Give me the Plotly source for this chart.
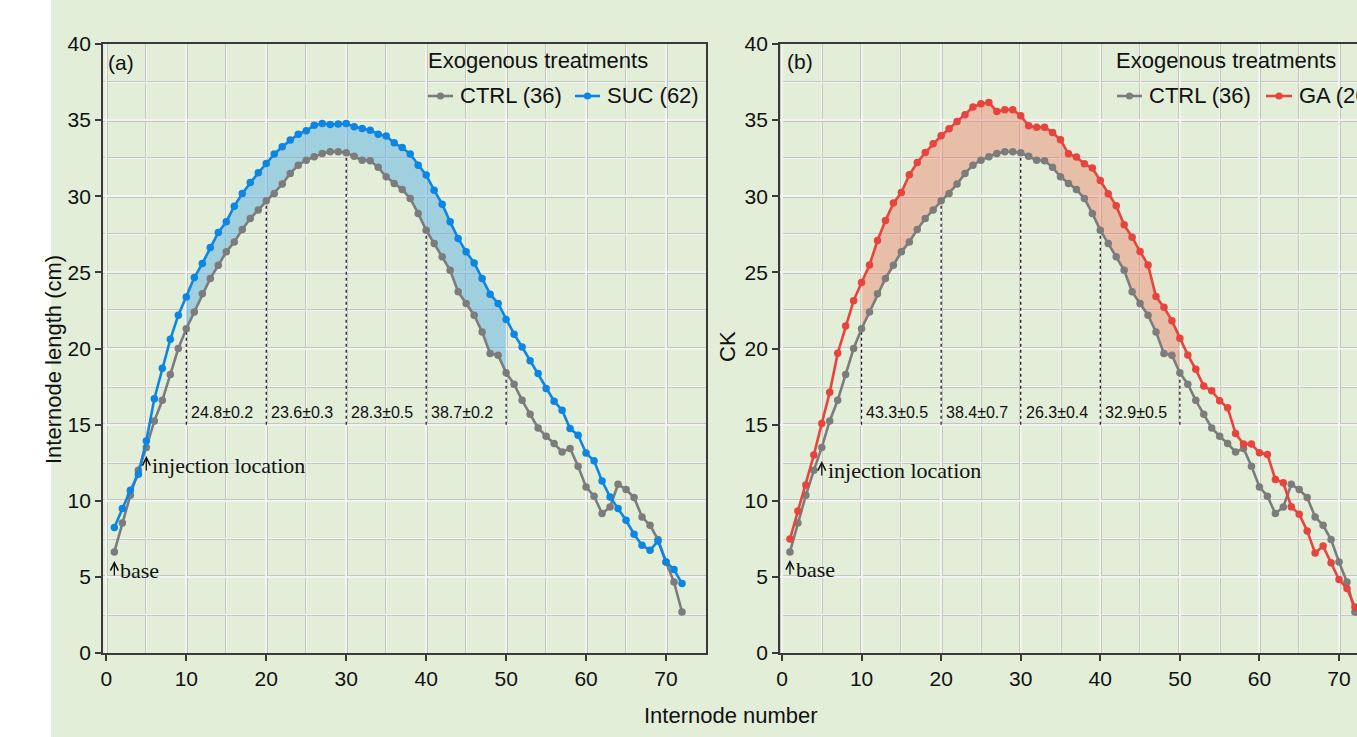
import plotly.graph_objects as go

# ---------------- data ----------------
internode = list(range(1, 73))

ctrl = [6.64, 8.54, 10.36, 12.0, 13.5, 15.24, 16.6, 18.3, 20.0, 21.3,
        22.4, 23.6, 24.6, 25.47, 26.35, 27.0, 27.82, 28.54, 29.09, 29.7,
        30.18, 30.8, 31.5, 32.04, 32.37, 32.59, 32.81, 32.92, 32.92, 32.85,
        32.63, 32.37, 32.33, 31.9, 31.28, 30.84, 30.44, 29.86, 28.87, 27.77,
        26.9, 26.02, 25.14, 23.72, 22.96, 22.19, 21.09, 19.67, 19.56, 18.4,
        17.65, 16.6, 15.68, 14.78, 14.24, 13.76, 13.21, 13.43, 12.27, 10.91,
        10.3, 9.16, 9.59, 11.08, 10.74, 10.21, 8.94, 8.39, 7.45, 5.98,
        4.66, 2.69]

suc = [8.24, 9.49, 10.69, 11.74, 13.93, 16.7, 18.7, 20.6, 22.19, 23.39,
       24.66, 25.58, 26.63, 27.62, 28.32, 29.35, 30.18, 30.9, 31.54, 32.15,
       32.77, 33.25, 33.69, 34.08, 34.3, 34.67, 34.78, 34.72, 34.74, 34.78,
       34.56, 34.45, 34.34, 34.08, 33.95, 33.51, 33.2, 32.77, 32.04, 31.39,
       30.4, 29.48, 28.32, 27.23, 26.35, 25.62, 24.6, 23.57, 22.96, 21.9,
       20.94, 20.1, 19.19, 18.36, 17.37, 16.54, 15.95, 14.74, 14.3, 13.14,
       12.62, 11.3, 10.25, 9.49, 8.72, 7.8, 7.08, 6.75, 7.36, 5.98,
       5.48, 4.56]

ga = [7.48, 9.32, 11.03, 13.0, 15.08, 17.12, 19.68, 21.48, 23.14, 24.33,
      25.49, 27.09, 28.4, 29.55, 30.24, 31.41, 32.22, 32.87, 33.45, 33.97,
      34.43, 34.91, 35.35, 35.86, 36.07, 36.16, 35.57, 35.68, 35.68, 35.29,
      34.63, 34.54, 34.54, 34.19, 33.71, 32.79, 32.57, 32.13, 31.85, 31.03,
      30.16, 29.37, 28.12, 27.31, 26.37, 25.49, 23.41, 22.71, 21.83, 20.67,
      19.57, 18.63, 17.53, 17.23, 16.57, 16.11, 14.42, 13.72, 13.72, 13.15,
      13.04, 11.4, 11.18, 9.6, 9.12, 8.02, 6.57, 7.02, 5.92, 4.83,
      4.23, 3.02]

segment_bounds = [10, 20, 30, 40, 50]
labels_a = ["24.8±0.2", "23.6±0.3", "28.3±0.5", "38.7±0.2"]
labels_b = ["43.3±0.5", "38.4±0.7", "26.3±0.4", "32.9±0.5"]
legend_title = "Exogenous treatments"
names_a = ["CTRL (36)", "SUC (62)"]
names_b = ["CTRL (36)", "GA (26)"]
x_ticks = [0, 10, 20, 30, 40, 50, 60, 70]
y_ticks = [0, 5, 10, 15, 20, 25, 30, 35, 40]
injection_node = 5
base_node = 1

# ---------------- styles ----------------
W, H = 1357, 737
ML, MR, MT, MB = 103, 0, 44, 84
PW = W - ML - MR
PH = H - MT - MB
BG = "#E2EED8"
GREY = "#7C7C7C"
BLUE = "#0D86E3"
RED = "#E8443E"
FONT = "Liberation Sans, Arial, sans-serif"
SERIF = "Liberation Serif, Times New Roman, serif"
AXC = "#3A3A3A"
GRID_EDGE = "#C3C7C0"
GRID_CORE = "#F3F4F1"
YPX = PH / 40.0  # pixels per y unit


def px(x):
    return (x - ML) / PW


def py(y):
    return (H - MB - y) / PH


def ydata(ypix):
    return (H - MB - ypix) / YPX


fig = go.Figure()


def add_panel(xa, ya, treat, color, fillcolor, labels):
    lo, hi = segment_bounds[0], segment_bounds[-1]
    xs = [x for x in internode if lo <= x <= hi]
    c_seg = [ctrl[x - 1] for x in xs]
    t_seg = [treat[x - 1] for x in xs]
    fig.add_trace(go.Scatter(
        x=xs + xs[::-1], y=c_seg + t_seg[::-1], fill="toself",
        fillcolor=fillcolor, line=dict(width=0), mode="lines",
        hoverinfo="skip", showlegend=False, xaxis=xa, yaxis=ya))
    dx, dy = [], []
    for b in segment_bounds:
        dx += [b, b, None]
        dy += [15, ctrl[b - 1], None]
    fig.add_trace(go.Scatter(
        x=dx, y=dy, mode="lines", line=dict(color="#1A1A1A", width=1.3, dash="dot"),
        hoverinfo="skip", showlegend=False, xaxis=xa, yaxis=ya))
    fig.add_trace(go.Scatter(
        x=internode, y=ctrl, mode="lines+markers",
        line=dict(color=GREY, width=2.6), marker=dict(color=GREY, size=7.5),
        showlegend=False, xaxis=xa, yaxis=ya))
    fig.add_trace(go.Scatter(
        x=internode, y=treat, mode="lines+markers",
        line=dict(color=color, width=2.6), marker=dict(color=color, size=7.5),
        showlegend=False, xaxis=xa, yaxis=ya))
    xref = "x" if xa == "x" else "x2"
    yref = "y" if ya == "y" else "y2"
    for b, lab in zip(segment_bounds[:-1], labels):
        fig.add_annotation(x=b + 0.35, y=15.8, xref=xref, yref=yref, text=lab,
                           showarrow=False, xanchor="left", yanchor="middle",
                           font=dict(family=FONT, size=16, color="#111111"))
    return xref, yref


xr_a, yr_a = add_panel("x", "y", suc, BLUE, "rgba(80,170,230,0.45)", labels_a)
xr_b, yr_b = add_panel("x2", "y2", ga, RED, "rgba(240,120,100,0.40)", labels_b)

# empty traces so the overlay (grid-core) subplots exist
fig.add_trace(go.Scatter(x=[], y=[], xaxis="x3", yaxis="y3", showlegend=False))
fig.add_trace(go.Scatter(x=[], y=[], xaxis="x4", yaxis="y4", showlegend=False))

tickfont = dict(family=FONT, size=21, color="#111111")
common_x = dict(tickvals=x_ticks, ticks="outside", ticklen=6, tickwidth=1.5,
                tickcolor=AXC, showline=True, linecolor=AXC, linewidth=1.8,
                showgrid=True, gridcolor=GRID_EDGE, gridwidth=3.2, zeroline=False,
                minor=dict(dtick=5, showgrid=True, gridcolor=GRID_EDGE, gridwidth=2.4, ticks=""),
                tickfont=tickfont, layer="above traces")
common_y = dict(tickvals=y_ticks, ticks="outside", ticklen=6, tickwidth=1.5,
                tickcolor=AXC, showline=True, linecolor=AXC, linewidth=1.8,
                showgrid=True, gridcolor=GRID_EDGE, gridwidth=3.2, zeroline=False,
                minor=dict(dtick=2.5, showgrid=True, gridcolor=GRID_EDGE, gridwidth=2.4, ticks=""),
                tickfont=tickfont, range=[0, 40], layer="above traces")
core_x = dict(tickvals=x_ticks, showticklabels=False, ticks="", showline=False,
              showgrid=True, gridcolor=GRID_CORE, gridwidth=1.8, zeroline=False,
              minor=dict(dtick=5, showgrid=True, gridcolor=GRID_CORE, gridwidth=1.1, ticks=""))
core_y = dict(tickvals=y_ticks, showticklabels=False, ticks="", showline=False,
              showgrid=True, gridcolor=GRID_CORE, gridwidth=1.8, zeroline=False,
              minor=dict(dtick=2.5, showgrid=True, gridcolor=GRID_CORE, gridwidth=1.1, ticks=""),
              range=[0, 40])

a_left, a_right = 103, 706
b_left = 780
xa_range = [-0.42, 75.0]
xb_range = [-0.25, 72.26]
dom_a = [px(a_left), px(a_right)]
dom_b = [px(b_left), 1]
fig.update_layout(
    xaxis=dict(domain=dom_a, range=xa_range, mirror=True, anchor="y", **common_x),
    yaxis=dict(domain=[0, 1], mirror=True, anchor="x", **common_y),
    xaxis2=dict(domain=dom_b, range=xb_range, mirror=True, anchor="y2", **common_x),
    yaxis2=dict(domain=[0, 1], mirror=False, anchor="x2", **common_y),
    xaxis3=dict(domain=dom_a, range=xa_range, overlaying="x", anchor="y3", **core_x),
    yaxis3=dict(domain=[0, 1], overlaying="y", anchor="x3", **core_y),
    xaxis4=dict(domain=dom_b, range=xb_range, overlaying="x2", anchor="y4", **core_x),
    yaxis4=dict(domain=[0, 1], overlaying="y2", anchor="x4", **core_y),
)

fig.update_layout(
    width=W, height=H,
    margin=dict(l=ML, r=MR, t=MT, b=MB, pad=0),
    paper_bgcolor=BG, plot_bgcolor=BG,
    showlegend=False,
    font=dict(family=FONT, color="#111111"),
)

# white strip at the far left
fig.add_shape(type="rect", xref="paper", yref="paper",
              x0=px(-5), x1=px(51), y0=py(H + 5), y1=py(-5),
              fillcolor="white", line=dict(width=0), layer="below")


def ann(text, x, y, size=22, family=FONT, xanchor="left", angle=0):
    fig.add_annotation(xref="paper", yref="paper", x=px(x), y=py(y), text=text,
                       showarrow=False, xanchor=xanchor, yanchor="middle",
                       textangle=angle, font=dict(family=family, size=size, color="#111111"))


def arrow_label(xref, yref, node, ytop_px, text, text_dx=0.5):
    # small upward arrow at the node, text to its right
    fig.add_annotation(xref=xref, yref=yref, x=node, y=ydata(ytop_px),
                       ax=0, ay=16, axref="pixel", ayref="pixel", text="",
                       showarrow=True, arrowhead=5, arrowsize=1.2, arrowwidth=1.3,
                       arrowcolor="#111111")
    fig.add_annotation(xref=xref, yref=yref, x=node + text_dx, y=ydata(ytop_px + 9),
                       text=text, showarrow=False, xanchor="left", yanchor="middle",
                       font=dict(family=SERIF, size=22, color="#111111"))


# panel letters
ann("(a)", 106, 63, size=21)
ann("(b)", 785, 62, size=21)

# axis titles
ann("Internode length (cm)", 53, 360, size=22, xanchor="center", angle=-90)
ann("CK", 728, 347, size=22, xanchor="center", angle=-90)
ann("Internode number", 731, 715, size=22, xanchor="center")

# arrow annotations
arrow_label(xr_a, yr_a, injection_node, 456, "injection location")
arrow_label(xr_a, yr_a, base_node, 561, "base")
arrow_label(xr_b, yr_b, injection_node, 461, "injection location")
arrow_label(xr_b, yr_b, base_node, 560, "base")


# manual legends
def legend(x_title, x_items, names, colors):
    ann(legend_title, x_title, 61, size=22)
    for (xs, xe), name, col in zip(x_items, names, colors):
        fig.add_shape(type="line", xref="paper", yref="paper",
                      x0=px(xs), x1=px(xe), y0=py(96), y1=py(96),
                      line=dict(color=col, width=2.6))
        cx = (xs + xe) / 2
        fig.add_shape(type="circle", xref="paper", yref="paper",
                      x0=px(cx - 3.6), x1=px(cx + 3.6), y0=py(96 + 3.6), y1=py(96 - 3.6),
                      fillcolor=col, line=dict(color=col, width=0))
        ann(name, xe + 5, 95, size=22)


legend(426, [(428, 453), (575, 600)], names_a, [GREY, BLUE])
legend(1114, [(1117, 1142), (1266, 1292)], names_b, [GREY, RED])

fig.write_html("out.html")
